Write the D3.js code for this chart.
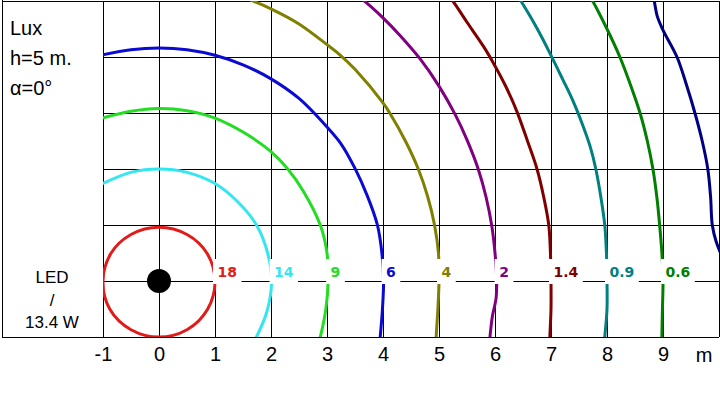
<!DOCTYPE html>
<html><head><meta charset="utf-8">
<script src="https://cdn.jsdelivr.net/npm/d3@7"></script>
<style>body{margin:0;background:#fff}svg{display:block}</style>
</head><body>
<svg id="c" width="720" height="400"></svg>
<script>
// ---- data (metres) ----
const xTickValues = [-1, 0, 1, 2, 3, 4, 5, 6, 7, 8, 9];
const gridXValues = [-1, 0, 1, 2, 3, 4, 5, 6, 7, 8, 9, 10];
const gridYValues = [-1, 0, 1, 2, 3, 4, 5];
const titleLines = ["Lux", "h=5 m.", "\u03b1=0\u00b0"];
const lampLines = ["LED", "/", "13.4 W"];
const unitLabel = "m";
const levelLabels = ["18", "14", "9", "6", "4", "2", "1.4", "0.9", "0.6", null];
const levelColors = ["#e31a1a", "#33e6f2", "#22dd22", "#0a0ad2", "#808000", "#800080", "#800000", "#008080", "#007f00", "#000080"];

const iso18 = [[0,0.96],[0.5,0.83],[0.86,0.49],[1.0,0],[0.87,-0.5],[0.5,-0.87],[0,-1.0],[-0.5,-0.87],[-0.88,-0.5],[-1.0,0],[-0.86,0.49],[-0.5,0.83]];
const iso14 = [[-1.05,1.72],[-0.5,1.94],[0,2.0],[0.5,1.94],[1.0,1.74],[1.41,1.41],[1.74,1.0],[1.94,0.5],[2.01,0],[1.94,-0.5],[1.74,-1.0],[1.68,-1.1]];
const iso9 = [[-1.05,2.9],[-0.5,3.03],[0,3.08],[0.5,3.04],[1.0,2.91],[1.5,2.66],[2.0,2.31],[2.3,2.0],[2.58,1.6],[2.88,1.0],[3.0,0.5],[3.02,0],[2.98,-0.5],[2.88,-1.0],[2.85,-1.1]];
const iso6 = [[-1.05,4.03],[-0.5,4.13],[0,4.16],[0.5,4.13],[1.0,4.03],[1.5,3.86],[2.0,3.61],[2.5,3.26],[3.0,2.75],[3.25,2.45],[3.5,2.01],[3.72,1.52],[3.9,1.0],[3.98,0.5],[4.01,0],[3.99,-0.5],[3.95,-1.0],[3.94,-1.1]];
const iso4 = [[1.5,5.08],[1.63,5.02],[2.0,4.86],[2.5,4.59],[3.0,4.22],[3.23,4.04],[3.5,3.78],[4.0,3.18],[4.12,3.0],[4.4,2.5],[4.63,2.0],[4.8,1.5],[4.92,1.0],[4.99,0.5],[5.0,0],[4.98,-0.5],[4.95,-1.0],[4.95,-1.1]];
const iso2 = [[3.55,5.08],[3.64,5.02],[4.0,4.70],[4.3,4.39],[4.66,3.97],[5.0,3.48],[5.29,2.97],[5.5,2.52],[5.7,2.0],[5.84,1.5],[5.94,1.0],[6.0,0.5],[6.03,0],[6.02,-0.3],[5.95,-0.65],[5.91,-1.0],[5.9,-1.1]];
const iso1_4 = [[5.15,5.1],[5.23,5.02],[5.5,4.62],[5.8,4.18],[6.0,3.84],[6.2,3.46],[6.39,3.03],[6.58,2.5],[6.75,2.0],[6.87,1.5],[6.96,1.0],[6.99,0.5],[7.0,0],[7.0,-0.5],[6.98,-1.0],[6.98,-1.1]];
const iso0_9 = [[6.4,5.1],[6.45,5.02],[6.62,4.74],[6.8,4.42],[7.0,4.03],[7.2,3.62],[7.4,3.2],[7.56,2.8],[7.7,2.4],[7.8,2.0],[7.89,1.5],[7.96,1.0],[7.99,0.5],[8.0,0],[8.0,-0.5],[7.96,-1.0],[7.95,-1.1]];
const iso0_6 = [[7.68,5.08],[7.73,5.02],[8.0,4.5],[8.23,4.0],[8.42,3.5],[8.59,3.0],[8.72,2.5],[8.82,2.0],[8.89,1.5],[8.94,1.0],[8.98,0.5],[9.0,0],[8.99,-0.5],[8.98,-1.0],[8.98,-1.1]];
const isoOuter = [[8.82,5.1],[8.84,5.02],[8.9,4.72],[9.0,4.48],[9.25,4.0],[9.42,3.5],[9.57,3.0],[9.7,2.5],[9.8,2.0],[9.85,1.5],[9.88,1.0],[9.95,0.7],[10.05,0.45]];
const isoCurves = [iso18, iso14, iso9, iso6, iso4, iso2, iso1_4, iso0_9, iso0_6, isoOuter];
const lampPosition = [0, 0];

// ---- layout ----
const svg = d3.select("#c");
const x = d3.scaleLinear().domain([-1, 10]).range([103, 719]);
const y = d3.scaleLinear().domain([-1, 5]).range([337, 1]);
const FONT = "'Liberation Sans', Arial, sans-serif";

svg.append("defs").append("clipPath").attr("id", "plot")
  .append("rect").attr("x", x(-1)).attr("y", y(5)).attr("width", x(10) - x(-1)).attr("height", y(-1) - y(5));

// frame of the label area
const frame = svg.append("g").attr("stroke", "#000").attr("stroke-width", 1).attr("shape-rendering", "crispEdges");
frame.append("line").attr("x1", 2).attr("x2", 2).attr("y1", 0).attr("y2", y(-1));
frame.append("line").attr("x1", 2).attr("x2", x(10)).attr("y1", y(5)).attr("y2", y(5));
frame.append("line").attr("x1", 2).attr("x2", x(10)).attr("y1", y(-1)).attr("y2", y(-1));

// grid
const grid = svg.append("g").attr("stroke", "#000").attr("stroke-width", 1).attr("shape-rendering", "crispEdges");
grid.selectAll("line.v").data(gridXValues).join("line").attr("class", "v")
  .attr("x1", d => x(d)).attr("x2", d => x(d)).attr("y1", y(5)).attr("y2", y(-1));
grid.selectAll("line.h").data(gridYValues).join("line").attr("class", "h")
  .attr("x1", x(-1)).attr("x2", x(10)).attr("y1", d => y(d)).attr("y2", d => y(d));

// isolux curves
const open = d3.line().x(d => x(d[0])).y(d => y(d[1])).curve(d3.curveCatmullRom.alpha(0.5));
const closed = d3.line().x(d => x(d[0])).y(d => y(d[1])).curve(d3.curveCatmullRomClosed.alpha(0.5));
const cg = svg.append("g").attr("clip-path", "url(#plot)");
isoCurves.forEach((c, i) => {
  cg.append("path").attr("d", i === 0 ? closed(c) : open(c))
    .attr("fill", "none").attr("stroke", levelColors[i]).attr("stroke-width", 3)
    .attr("stroke-linejoin", "round");
});

// level labels on the x axis
const lg = svg.append("g");
isoCurves.forEach((c, i) => {
  if (!levelLabels[i]) return;
  const p0 = c.find(p => p[1] === 0);
  const cx = x(p0[0]);
  const bg = lg.append("rect").attr("fill", "#fff");
  const t = lg.append("text").attr("x", cx + 2.5).attr("y", y(0) - 4)
    .attr("font-family", "'DejaVu Sans', Verdana, sans-serif").attr("font-weight", "bold")
    .attr("font-size", 14).attr("fill", levelColors[i]).text(levelLabels[i]);
  const w = t.node().getComputedTextLength();
  bg.attr("x", cx - 2).attr("y", y(0) - 22).attr("width", w + 9).attr("height", 25);
});

// lamp
svg.append("circle").attr("cx", x(lampPosition[0])).attr("cy", y(lampPosition[1])).attr("r", 12).attr("fill", "#000");

// x axis tick labels
const ax = svg.append("g").attr("transform", `translate(0,${y(-1)})`)
  .call(d3.axisBottom(x).tickValues(xTickValues).tickSize(0).tickPadding(10).tickFormat(d => String(d)));
ax.select(".domain").remove();
ax.selectAll("text").attr("font-family", FONT).attr("font-size", 20).attr("fill", "#000");
svg.append("text").attr("x", 704).attr("y", y(-1) + 24.5).attr("text-anchor", "middle")
  .attr("font-family", FONT).attr("font-size", 20).text(unitLabel);

// title block
svg.selectAll("text.title").data(titleLines).join("text").attr("class", "title")
  .attr("x", 10).attr("y", (d, i) => 35 + i * 30)
  .attr("font-family", FONT).attr("font-size", 20).text(d => d);
svg.selectAll("text.lamp").data(lampLines).join("text").attr("class", "lamp")
  .attr("x", 52).attr("y", (d, i) => 283 + i * 22.5).attr("text-anchor", "middle")
  .attr("font-family", FONT).attr("font-size", 17).text(d => d);
</script>
</body></html>
